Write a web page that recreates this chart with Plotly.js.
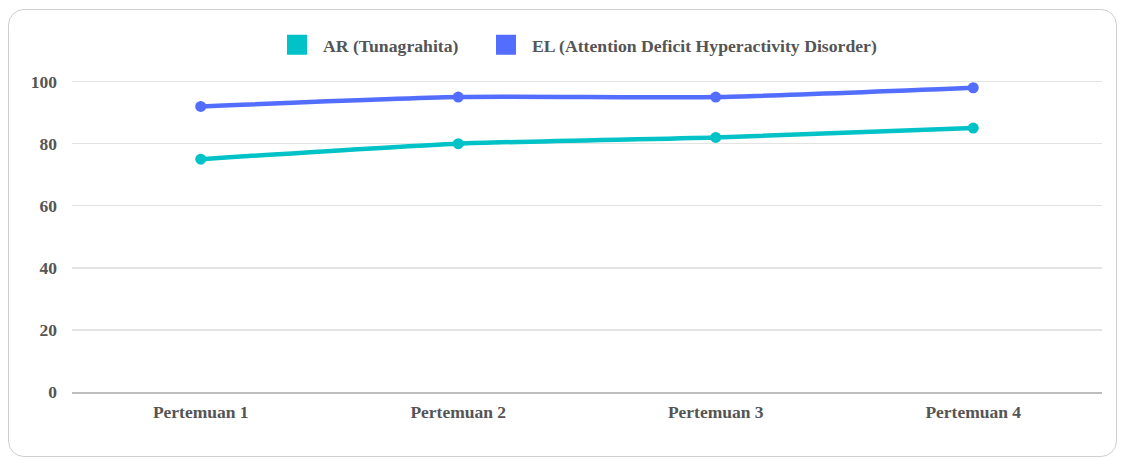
<!DOCTYPE html>
<html>
<head>
<meta charset="utf-8">
<script src="https://cdn.plot.ly/plotly-3.0.1.min.js"></script>
<style>
html,body{margin:0;padding:0;background:#fff;}
#frame{position:absolute;left:8px;top:9px;width:1109px;height:448px;border:1px solid #cfcfcf;border-radius:16px;box-sizing:border-box;}
#chart{position:absolute;left:0;top:0;width:1121px;height:461px;}
</style>
</head>
<body>
<div id="frame"></div>
<div id="chart"></div>
<script>
const categories = ["Pertemuan 1", "Pertemuan 2", "Pertemuan 3", "Pertemuan 4"];
const seriesNames = ["AR (Tunagrahita)", "EL (Attention Deficit Hyperactivity Disorder)"];
const arValues = [75, 80, 82, 85];
const elValues = [92, 95, 95, 98];
const colors = ["#00C2C7", "#536DFE"];
const yTicks = [0, 20, 40, 60, 80, 100];

const family = "'Liberation Serif', 'Times New Roman', Times, serif";
const tickFont = {family: family, size: 17.5, color: "#555555", weight: 700};
const legFont = {family: family, size: 17.7, color: "#555555", weight: 700};

function lineTrace(vals, i) {
  return {
    x: categories, y: vals, type: "scatter", mode: "lines+markers",
    line: {color: colors[i], width: 4.5, shape: "spline", smoothing: 0.6},
    marker: {color: colors[i], size: 11},
    showlegend: false, hoverinfo: "x+y"
  };
}
function legendTrace(i, legendId) {
  return {
    x: [null], y: [null], type: "scatter", mode: "markers", name: seriesNames[i],
    marker: {color: colors[i], size: 16, symbol: "square", line: {color: colors[i], width: 4}},
    showlegend: true, legend: legendId
  };
}

const data = [legendTrace(0, "legend"), legendTrace(1, "legend2"), lineTrace(arValues, 0), lineTrace(elValues, 1)];

function legendBox(xpx) {
  return {orientation: "h", x: xpx / 1121, xanchor: "left", xref: "container",
          y: 0.902, yanchor: "middle", yref: "container",
          font: legFont, itemwidth: 42, bgcolor: "rgba(0,0,0,0)", borderwidth: 0};
}

const layout = {
  width: 1121, height: 461,
  paper_bgcolor: "rgba(0,0,0,0)", plot_bgcolor: "rgba(0,0,0,0)",
  margin: {l: 72, r: 19, t: 80, b: 69},
  font: tickFont,
  showlegend: true,
  legend: legendBox(271),
  legend2: legendBox(480),
  xaxis: {type: "category", range: [-0.5, 3.5], showgrid: false, zeroline: false,
          showline: true, linecolor: "#bdbdbd", linewidth: 1.5,
          tickfont: tickFont, ticks: "", ticklabelstandoff: 3, fixedrange: true},
  yaxis: {range: [0, 100.5], tickvals: yTicks, showgrid: true, gridcolor: "#e3e3e3", gridwidth: 1.5,
          zeroline: false, showline: false, tickfont: tickFont, ticks: "", ticklabelstandoff: 14, fixedrange: true}
};

Plotly.newPlot("chart", data, layout, {displayModeBar: false, staticPlot: true});
</script>
</body>
</html>
